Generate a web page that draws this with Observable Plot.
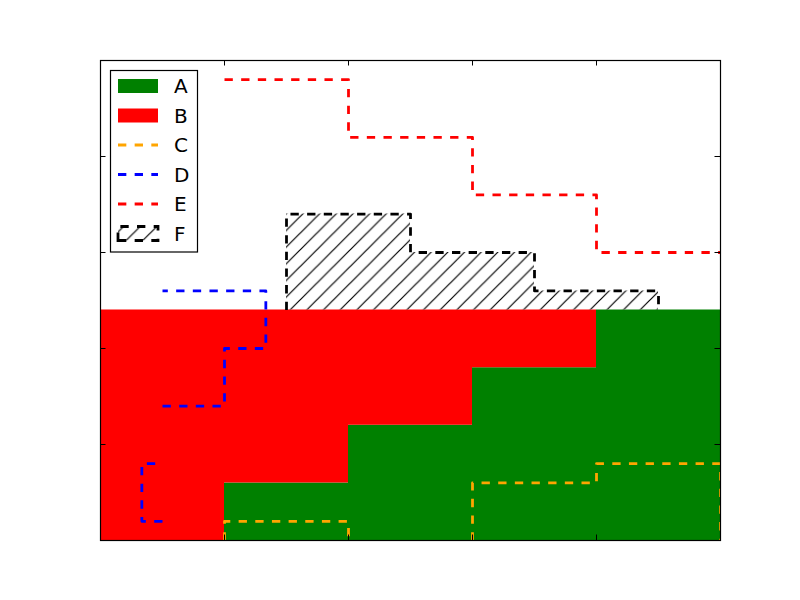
<!DOCTYPE html>
<html>
<head>
<meta charset="utf-8">
<script src="https://cdn.jsdelivr.net/npm/d3@7"></script>
<script src="https://cdn.jsdelivr.net/npm/@observablehq/plot@0.6"></script>
<style>
  html, body { margin: 0; padding: 0; background: white; }
  #wrap { position: relative; width: 800px; height: 600px; }
  #wrap svg { display: block; }
  #legend { position: absolute; left: 0; top: 0; pointer-events: none; }
</style>
</head>
<body>
<div id="wrap"></div>
<script>
// ---- data ----
const labels = ["A", "B", "C", "D", "E", "F"];
const colors = ["#008000", "#ff0000", "#ffa500", "#0000ff", "#ff0000", "#000000"];
const aEdges = [1, 2, 3, 4, 5];
const aValues = [3, 6, 9, 12];
const aBaseline = 0;
const bEdges = [0, 3, 6, 9, 12];          // horizontal
const bValues = [1, 2, 3, 4];
const bBaseline = 0;
const cEdges = [1, 2, 3, 4, 5];
const cValues = [1, NaN, 3, 4];
const cBaseline = 0;
const dEdges = [1, 4, 7, 10, 13];         // horizontal
const dValues = [1 / 3, NaN, 1, 4 / 3];
const dBaseline = 0.5;
const eEdges = [1, 2, 3, 4, 5];
const eValues = [24, 21, 18, 15];
const eBaseline = null;
const fEdges = [1.5, 2.5, 3.5, 4.5];
const fValues = [17, 15, 13];
const fBaseline = 12;
const xTicks = [0, 1, 2, 3, 4, 5];
const yTicks = [0, 5, 10, 15, 20, 25];

// matplotlib-like stairs vertices
function stairs(edges, values, baseline, horizontal) {
  const pts = [];
  let seg = 0, i = 0;
  while (i < values.length) {
    if (!Number.isFinite(values[i])) { i++; continue; }
    let j = i;
    while (j < values.length && Number.isFinite(values[j])) j++;
    const ps = [], vs = [];
    for (let k = i; k <= j; k++) ps.push(edges[k], edges[k]);
    for (let k = i; k < j; k++) vs.push(values[k], values[k]);
    let vv;
    if (baseline == null) vv = [vs[0], ...vs, vs[vs.length - 1]];
    else vv = [baseline, ...vs, baseline];
    for (let k = 0; k < ps.length; k++) {
      pts.push(horizontal ? {x: vv[k], y: ps[k], seg, base: baseline}
                          : {x: ps[k], y: vv[k], seg, base: baseline});
    }
    seg++; i = j;
  }
  return pts;
}

const lw = 2.78;
const dash = "8.33,8.33";
const lineOpts = (stroke) => ({x: "x", y: "y", z: "seg", stroke, strokeWidth: lw,
  strokeDasharray: dash, strokeLinecap: "butt", strokeLinejoin: "round", curve: "linear", clip: true});

const W = 800, H = 600, mL = 100, mR = 80, mT = 60, mB = 60;
const pw = W - mL - mR, ph = H - mT - mB;

const svg = Plot.plot({
  width: W, height: H,
  marginLeft: mL, marginRight: mR, marginTop: mT, marginBottom: mB,
  x: {domain: [0, 5], axis: null},
  y: {domain: [0, 25], axis: null},
  style: {background: "white"},
  marks: [
    Plot.areaY(stairs(aEdges, aValues, aBaseline, false), {x: "x", y1: "base", y2: "y", fill: colors[0], curve: "linear", clip: true}),
    Plot.areaX(stairs(bEdges, bValues, bBaseline, true), {y: "y", x1: "base", x2: "x", fill: colors[1], curve: "linear", clip: true}),
    Plot.line(stairs(cEdges, cValues, cBaseline, false), lineOpts(colors[2])),
    Plot.line(stairs(dEdges, dValues, dBaseline, true), lineOpts(colors[3])),
    Plot.line(stairs(eEdges, eValues, eBaseline, false), lineOpts(colors[4])),
    Plot.areaY(stairs(fEdges, fValues, fBaseline, false), {x: "x", y1: "base", y2: "y", fill: "url(#hatchF)", curve: "linear", clip: true}),
    Plot.line(stairs(fEdges, fValues, fBaseline, false), lineOpts(colors[5])),
    Plot.tickX(xTicks, {x: d => d, insetTop: ph - 5.5, stroke: "black", strokeWidth: 1}),
    Plot.tickX(xTicks, {x: d => d, insetBottom: ph - 5.5, stroke: "black", strokeWidth: 1}),
    Plot.tickY(yTicks, {y: d => d, insetLeft: pw - 5.5, stroke: "black", strokeWidth: 1}),
    Plot.tickY(yTicks, {y: d => d, insetRight: pw - 5.5, stroke: "black", strokeWidth: 1}),
    Plot.frame({stroke: "black", strokeWidth: 1.2})
  ]
});

const sp = 100 / 6;
const patternHTML = (id) => `<pattern id="${id}" patternUnits="userSpaceOnUse" x="0" y="0" width="${sp}" height="${sp}">
  <path d="M0,${sp} L${sp},0 M-2,2 L2,-2 M${sp - 2},${sp + 2} L${sp + 2},${sp - 2}" stroke="black" stroke-width="1.2" fill="none"/>
</pattern>`;
d3.select(svg).insert("defs", ":first-child").html(patternHTML("hatchF"));

const wrap = document.getElementById("wrap");
wrap.appendChild(svg);

// ---- legend ----
const lg = d3.select(wrap).append("svg").attr("id", "legend")
  .attr("width", W).attr("height", H);
lg.append("defs").html(patternHTML("hatchL"));
lg.append("rect").attr("x", 110.5).attr("y", 70.5).attr("width", 87).attr("height", 181.5)
  .attr("fill", "white").attr("stroke", "black").attr("stroke-width", 1.2);
const kinds = ["fill", "fill", "line", "line", "line", "hatch"];
labels.forEach((lab, i) => {
  const cy = 86 + i * 29.5;
  const x0 = 118, x1 = 158;
  if (kinds[i] === "fill") {
    lg.append("rect").attr("x", x0).attr("y", cy - 7).attr("width", x1 - x0).attr("height", 14)
      .attr("fill", colors[i]);
  } else if (kinds[i] === "line") {
    lg.append("line").attr("x1", x0).attr("x2", x1).attr("y1", cy).attr("y2", cy)
      .attr("stroke", colors[i]).attr("stroke-width", lw).attr("stroke-dasharray", dash);
  } else {
    lg.append("rect").attr("x", x0).attr("y", cy - 7).attr("width", x1 - x0).attr("height", 14)
      .attr("fill", "url(#hatchL)");
    lg.append("path").attr("d", `M${x0},${cy + 7} H${x1} V${cy - 7} H${x0} Z`)
      .attr("fill", "none").attr("stroke", colors[i]).attr("stroke-width", lw)
      .attr("stroke-dasharray", dash);
  }
  lg.append("text").attr("x", 174).attr("y", cy + 7.3).text(lab)
    .attr("font-family", "DejaVu Sans").attr("font-size", 20).attr("fill", "black");
});
</script>
</body>
</html>
